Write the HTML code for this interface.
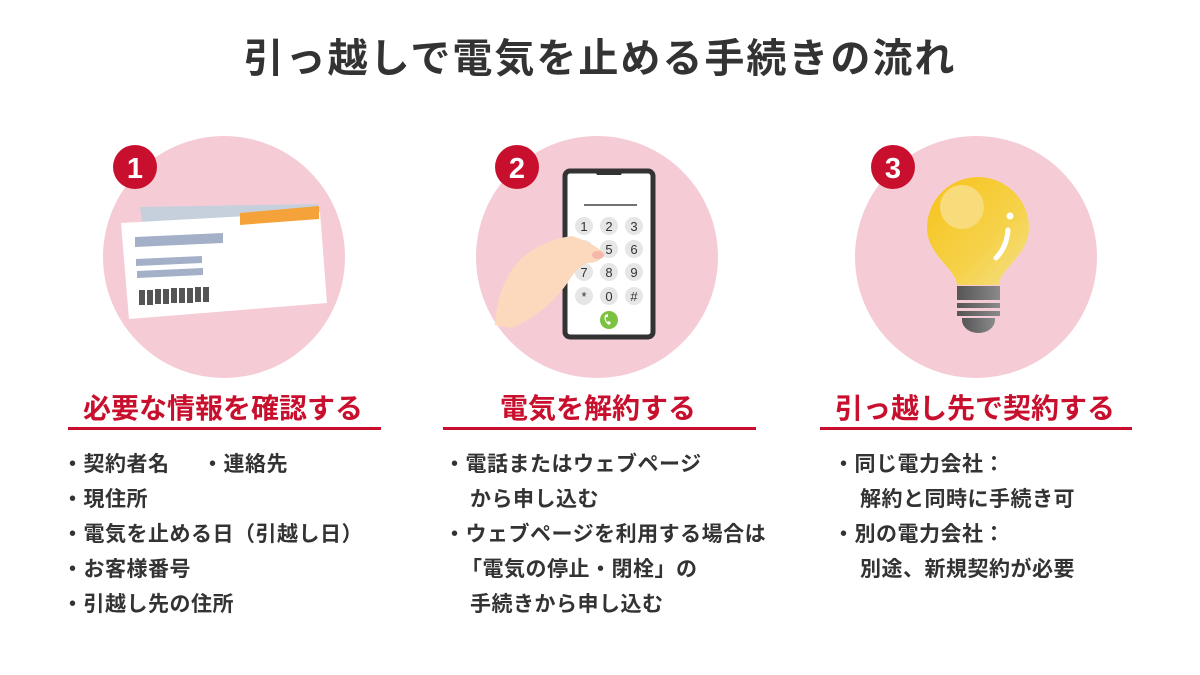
<!DOCTYPE html>
<html><head><meta charset="utf-8"><style>
html,body{margin:0;padding:0;background:#fff;}
svg{display:block;}
text{font-family:"Liberation Sans","Noto Sans CJK JP",sans-serif;font-weight:bold;}
</style></head><body>
<svg width="1200" height="675" viewBox="0 0 1200 675" xmlns="http://www.w3.org/2000/svg">
<defs>
<linearGradient id="bulb" x1="0" y1="0" x2="1" y2="1">
<stop offset="0" stop-color="#f7c21a"/><stop offset="0.6" stop-color="#f6d24a"/><stop offset="1" stop-color="#f3e08a"/>
</linearGradient>
<linearGradient id="base" x1="0" y1="0" x2="1" y2="0">
<stop offset="0" stop-color="#555"/><stop offset="1" stop-color="#8a8a8a"/>
</linearGradient>
</defs>
<text x="600" y="72" text-anchor="middle" font-size="40" fill="#333" letter-spacing="2">引っ越しで電気を止める手続きの流れ</text>

<circle cx="224" cy="257" r="121" fill="#f5ccd5"/>
<circle cx="597" cy="257" r="121" fill="#f5ccd5"/>
<circle cx="976" cy="257" r="121" fill="#f5ccd5"/>

<polygon points="140,207 318,204 320,216 142,222" fill="#c6d0dd"/>
<polygon points="121,223 320,212 327,303 129,319" fill="#fff"/>
<polygon points="240,213 319,206 319,219 240,225" fill="#f5a23a"/>
<polygon points="135,237 223,233 223,243 135,247" fill="#a3b0c8"/>
<polygon points="136,259 202,256 202,263 136,266" fill="#a3b0c8"/>
<polygon points="137,271 203,268 203,275 137,278" fill="#a3b0c8"/>
<g fill="#555">
<rect x="139" y="290" width="6" height="15"/><rect x="147" y="290" width="6" height="15"/><rect x="155" y="289" width="6" height="15"/><rect x="163" y="289" width="6" height="15"/><rect x="171" y="288" width="6" height="15"/><rect x="179" y="288" width="6" height="15"/><rect x="187" y="288" width="6" height="15"/><rect x="195" y="287" width="6" height="15"/><rect x="203" y="287" width="6" height="15"/>
</g>

<rect x="565" y="171" width="88" height="166" rx="5" fill="#fff" stroke="#333" stroke-width="5"/>
<path d="M594,169 h30 l-3,6 h-24 z" fill="#333"/>
<line x1="584" y1="205" x2="637" y2="205" stroke="#444" stroke-width="1.5"/>
<g fill="#e6e6e6">
<circle cx="584" cy="226" r="9"/><circle cx="609" cy="226" r="9"/><circle cx="634" cy="226" r="9"/>
<circle cx="584" cy="249" r="9"/><circle cx="609" cy="249" r="9"/><circle cx="634" cy="249" r="9"/>
<circle cx="584" cy="272" r="9"/><circle cx="609" cy="272" r="9"/><circle cx="634" cy="272" r="9"/>
<circle cx="584" cy="296" r="9"/><circle cx="609" cy="296" r="9"/><circle cx="634" cy="296" r="9"/>
</g>
<g font-size="13" fill="#333" text-anchor="middle">
<text x="584" y="231" style="font-weight:normal">1</text><text x="609" y="231" style="font-weight:normal">2</text><text x="634" y="231" style="font-weight:normal">3</text>
<text x="584" y="254" style="font-weight:normal">4</text><text x="609" y="254" style="font-weight:normal">5</text><text x="634" y="254" style="font-weight:normal">6</text>
<text x="584" y="277" style="font-weight:normal">7</text><text x="609" y="277" style="font-weight:normal">8</text><text x="634" y="277" style="font-weight:normal">9</text>
<text x="584" y="301" style="font-weight:normal">*</text><text x="609" y="301" style="font-weight:normal">0</text><text x="634" y="301" style="font-weight:normal">#</text>
</g>
<path d="M495,325 C496,300 505,275 520,260 C535,246 555,238 572,236 C585,240 595,246 602,251 C605,258 598,263 588,263 C580,266 574,272 568,282 C556,300 535,318 512,328 Z" fill="#fcd9bd"/>
<ellipse cx="598" cy="255" rx="6" ry="4" fill="#f6b6a8"/>
<circle cx="609" cy="320" r="9" fill="#7cc242"/>
<path d="M605,315 q-2,6 4,10 l2,-2 -2,-2 -2,1 q-2,-3 -1,-5 l2,0 0,-3 z" fill="#fff"/>

<path d="M957,285 C957,270 927,255 927,228 A51,51 0 1 1 1029,228 C1029,255 999,270 999,285 Z" fill="url(#bulb)"/>
<circle cx="962" cy="207" r="22" fill="#f8dc7c"/>
<circle cx="1010" cy="216" r="3.5" fill="#fff"/>
<path d="M1008,230 C1007,243 1002,252 996,258" stroke="#fff" stroke-width="5" fill="none" stroke-linecap="round"/>
<rect x="957" y="286" width="43" height="14" fill="url(#base)"/>
<rect x="957" y="303" width="43" height="5" fill="url(#base)"/>
<rect x="957" y="311" width="43" height="5" fill="url(#base)"/>
<path d="M962,318 h33 v2 a16.5,13 0 0 1 -33,0 z" fill="url(#base)"/>

<circle cx="135" cy="167" r="22" fill="#c8102e"/>
<text x="135" y="178" text-anchor="middle" font-size="29" fill="#fff">1</text>
<circle cx="517" cy="167" r="22" fill="#c8102e"/>
<text x="517" y="178" text-anchor="middle" font-size="29" fill="#fff">2</text>
<circle cx="893" cy="167" r="22" fill="#c8102e"/>
<text x="893" y="178" text-anchor="middle" font-size="29" fill="#fff">3</text>

<g font-size="28" fill="#c8102e">
<text x="223" y="418" text-anchor="middle">必要な情報を確認する</text>
<text x="598" y="418" text-anchor="middle">電気を解約する</text>
<text x="975" y="418" text-anchor="middle">引っ越し先で契約する</text>
</g>
<rect x="68" y="427" width="313" height="3" fill="#c8102e"/>
<rect x="443" y="427" width="313" height="3" fill="#c8102e"/>
<rect x="820" y="427" width="312" height="3" fill="#c8102e"/>

<g font-size="21" fill="#333" letter-spacing="0.5">
<text x="62" y="471">・契約者名</text><text x="202" y="471">・連絡先</text>
<text x="62" y="506">・現住所</text>
<text x="62" y="541">・電気を止める日（引越し日）</text>
<text x="62" y="576">・お客様番号</text>
<text x="62" y="611">・引越し先の住所</text>

<text x="444" y="471">・電話またはウェブページ</text>
<text x="470" y="506">から申し込む</text>
<text x="444" y="541">・ウェブページを利用する場合は</text>
<text x="461" y="576">「電気の停止・閉栓」の</text>
<text x="470" y="611">手続きから申し込む</text>

<text x="833" y="471">・同じ電力会社：</text>
<text x="860" y="506">解約と同時に手続き可</text>
<text x="833" y="541">・別の電力会社：</text>
<text x="860" y="576">別途、新規契約が必要</text>
</g>
</svg>
</body></html>
